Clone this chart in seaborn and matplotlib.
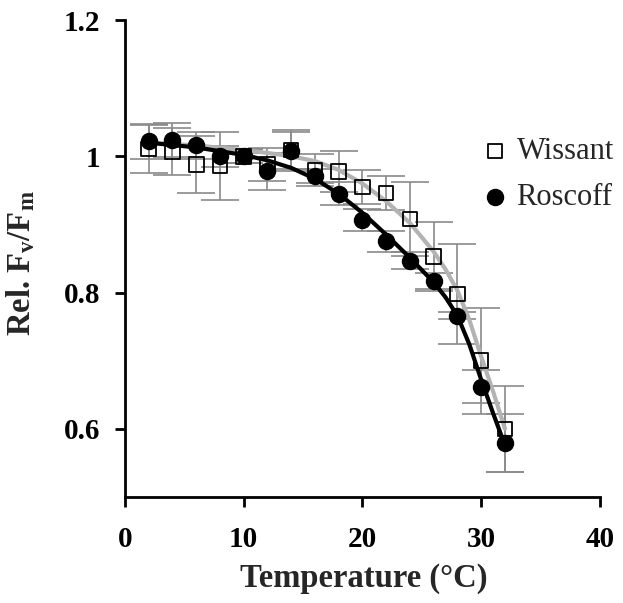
import numpy as np
import pandas as pd
import seaborn as sns
import matplotlib.pyplot as plt

temps = [2, 4, 6, 8, 10, 12, 14, 16, 18, 20, 22, 24, 26, 28, 30, 32]
wissant = [1.011, 1.007, 0.988, 0.986, 1.000, 0.988, 1.009, 0.980, 0.978, 0.955,
           0.946, 0.908, 0.853, 0.798, 0.700, 0.600]
wissant_err = [0.035, 0.035, 0.042, 0.050, 0.010, 0.024, 0.030, 0.024, 0.030, 0.025,
               0.025, 0.055, 0.050, 0.073, 0.078, 0.063]
roscoff = [1.022, 1.024, 1.016, 1.000, 1.000, 0.978, 1.008, 0.971, 0.945, 0.906,
           0.875, 0.847, 0.817, 0.766, 0.662, 0.579]
roscoff_err = [0.026, 0.025, 0.020, 0.015, 0.010, 0.027, 0.027, 0.010, 0.017, 0.016,
               0.016, 0.013, 0.012, 0.005, 0.024, 0.043]

# courbes ajustées
curve_t = [2, 6, 10, 12, 14, 16, 18, 20, 22, 24, 26, 27, 28, 29, 30, 31, 32]
wissant_fit = [1.020, 1.016, 1.009, 1.005, 1.000, 0.993, 0.980, 0.960, 0.934, 0.902,
               0.860, 0.834, 0.803, 0.760, 0.706, 0.655, 0.600]
roscoff_fit = [1.020, 1.013, 1.002, 0.994, 0.983, 0.967, 0.945, 0.917, 0.885, 0.851,
               0.815, 0.793, 0.766, 0.724, 0.672, 0.623, 0.576]

df = pd.DataFrame({'Temperature': temps, 'Wissant': wissant, 'Roscoff': roscoff})
fit = pd.DataFrame({'t': curve_t, 'Wissant': wissant_fit, 'Roscoff': roscoff_fit})

sns.set_theme(style="ticks")
plt.rcParams['font.family'] = ['Liberation Serif', 'DejaVu Serif']
plt.rcParams['font.weight'] = 'bold'
plt.rcParams['mathtext.fontset'] = 'custom'
plt.rcParams['mathtext.rm'] = 'Liberation Serif:bold'
plt.rcParams['mathtext.it'] = 'Liberation Serif:bold'

fig = plt.figure(figsize=(6.23, 6.03), dpi=100)
ax = fig.add_axes([0.2006, 0.1758, 0.7624, 0.791])

# barres d'erreur grises
ax.errorbar(df['Temperature'], df['Wissant'], yerr=wissant_err, fmt='none',
            ecolor='#8a8a8a', elinewidth=1.2, capsize=13.5, capthick=1.2, zorder=1)
ax.errorbar(df['Temperature'], df['Roscoff'], yerr=roscoff_err, fmt='none',
            ecolor='#8a8a8a', elinewidth=1.2, capsize=13.5, capthick=1.2, zorder=1)

sns.lineplot(data=fit, x='t', y='Wissant', color='#b3b3b3', lw=3, sort=False, ax=ax,
             zorder=2, solid_joinstyle='round')
sns.lineplot(data=fit, x='t', y='Roscoff', color='black', lw=3, sort=False, ax=ax,
             zorder=2, solid_joinstyle='round')

sns.scatterplot(data=df, x='Temperature', y='Wissant', marker='s', s=110,
                facecolor='none', edgecolor='black', linewidth=1.3, label='Wissant',
                ax=ax, zorder=3)
sns.scatterplot(data=df, x='Temperature', y='Roscoff', marker='o', s=135,
                color='black', edgecolor='black', label='Roscoff', ax=ax, zorder=4)

ax.set_xlim(0, 40)
ax.set_ylim(0.5, 1.2)
ax.set_xticks([0, 10, 20, 30, 40])
ax.set_yticks([0.6, 0.8, 1.0, 1.2])
ax.set_yticklabels(['0.6', '0.8', '1', '1.2'])

sns.despine(ax=ax)
for s in ['left', 'bottom']:
    ax.spines[s].set_linewidth(2)
    ax.spines[s].set_color('black')
ax.tick_params(axis='both', direction='out', length=7, width=2, labelsize=21, colors='black')
ax.tick_params(axis='x', pad=14)
ax.tick_params(axis='y', pad=11)

ax.set_xlabel('Temperature (°C)', fontsize=23.5, fontweight='bold')
ax.set_ylabel(r'Rel. F$_{\mathrm{v}}$/F$_{\mathrm{m}}$', fontsize=23.5, fontweight='bold')
ax.xaxis.set_label_coords(0.5025, -0.138)
ax.yaxis.set_label_coords(-0.185, 0.49)

ax.legend(loc='upper left', bbox_to_anchor=(0.747, 0.755), frameon=False,
          prop={'weight': 'normal', 'size': 22}, handlelength=1.0,
          handletextpad=0.2, borderpad=0, labelspacing=0.56, borderaxespad=0)

plt.savefig('out.png', dpi=100)
